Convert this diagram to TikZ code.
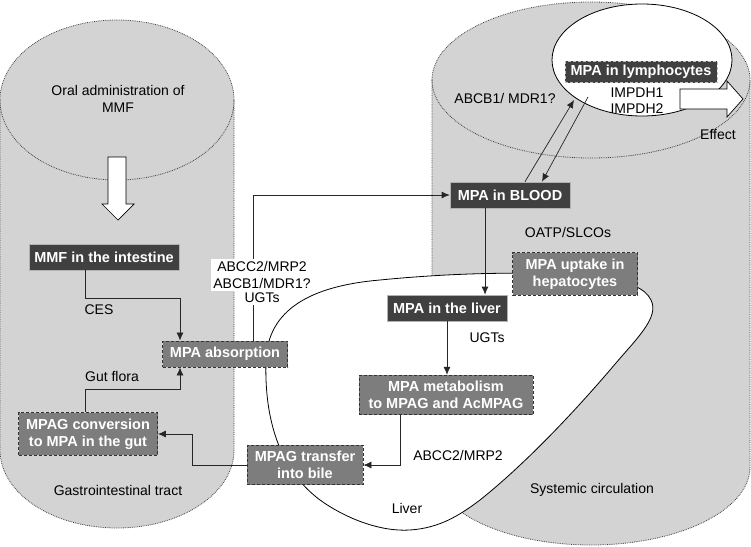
\documentclass[tikz,border=0pt]{standalone}
\usepackage{fontspec}
\setmainfont{Liberation Sans}
\usetikzlibrary{shapes,arrows.meta,positioning}

\definecolor{cylgray}{RGB}{211,211,211}
\definecolor{boxdark}{RGB}{64,64,64}
\definecolor{boxmid}{RGB}{125,125,125}

\tikzset{
  organ/.style={fill=cylgray, draw=black!75, densely dotted, line width=0.8pt},
  rim/.style={draw=black!75, densely dotted, line width=0.8pt},
  liverline/.style={fill=white, draw=black, line width=0.8pt},
  cell/.style={fill=white, draw=black, line width=0.8pt},
  hollow/.style={fill=white, draw=black, line width=0.7pt, line join=miter},
  darkbox/.style={fill=boxdark, draw=black!30, line width=0.7pt, text=white,
    font=\bfseries\fontsize{14.5}{17}\selectfont, align=center,
    inner xsep=3pt, inner ysep=6pt, minimum height=26pt},
  dashbox/.style={darkbox, fill=boxmid, draw=black!80, line width=0.8pt, dash pattern=on 3pt off 2pt},
  lbl/.style={font=\fontsize{14}{17}\selectfont, align=center, inner sep=1pt},
  conn/.style={draw=black!85, line width=0.7pt},
  arr/.style={conn, -{Latex[length=8pt,width=7pt]}}
}

\begin{document}
\begin{tikzpicture}[x=1pt,y=-1pt]
	\useasboundingbox (0,0) rectangle (751,546);
	
	% gut and blood
	\draw[organ] (0,100) arc (180:360:117 and 80) -- (234,450) arc (0:180:117 and 78) -- cycle;
	\draw[rim] (0,100) arc (180:0:117 and 80);
	\draw[organ] (432,80) arc (180:360:159 and 78) -- (750,467) arc (0:180:159 and 78) -- cycle;
	\draw[rim] (432,80) arc (180:0:159 and 78);
	
	% liver
	\draw[liverline] (380,280) .. controls (310,286) and (268,310) .. (266,360)
		.. controls (264,420) and (280,470) .. (320,500)
		.. controls (345,518) and (380,532) .. (410,530)
		.. controls (440,528) and (460,515) .. (480,500)
		.. controls (530,460) and (580,405) .. (610,370)
		.. controls (635,340) and (660,318) .. (651,300)
		.. controls (645,288) and (630,282) .. (600,278)
		.. controls (540,270) and (450,273) .. (380,280) -- cycle;
	
	% lymphocyte
	\draw[cell] (642,60) ellipse (90 and 56);
	
	\draw[hollow] (108,157) -- (126,157) -- (126,204) -- (134,204) -- (118,220) -- (102,204) -- (108,204) -- cycle;
	\draw[hollow] (680,89) -- (727,89) -- (727,81) -- (743,99) -- (727,117) -- (727,109) -- (680,109) -- cycle;
	
	\node[darkbox, minimum width=150pt] (mmf) at (104,257) {MMF in the intestine};
	\node[dashbox, minimum width=125pt] (absorb) at (225,354) {MPA absorption};
	\node[dashbox, minimum width=139pt] (conv) at (88,434) {MPAG conversion\\to MPA in the gut};
	\node[dashbox, minimum width=116pt] (transfer) at (305,465) {MPAG transfer\\into bile};
	\node[dashbox, minimum width=174pt] (metab) at (446,395) {MPA metabolism\\to MPAG and AcMPAG};
	\node[darkbox, minimum width=120pt] (livbox) at (447,308) {MPA in the liver};
	\node[dashbox, minimum width=125pt] (uptake) at (575,274) {MPA uptake in\\hepatocytes};
	\node[darkbox, minimum width=120pt] (blood) at (510,195) {MPA in BLOOD};
	\node[darkbox, draw=black!25, dash pattern=on 3pt off 2pt, minimum width=152pt,
		minimum height=21pt, inner ysep=4pt] (lymph) at (641,72) {MPA in lymphocytes};
	
	\node[lbl] (oral) at (118,99) {Oral administration of\\MMF};
	\node[lbl] (ces) at (99,310) {CES};
	\node[lbl] (flora) at (112,376) {Gut flora};
	\node[lbl] (gi) at (118,490) {Gastrointestinal tract};
	\node[lbl] (mdr) at (505,98) {ABCB1/ MDR1?};
	\node[lbl, font=\fontsize{14}{16}\selectfont] (impdh) at (637,101) {IMPDH1\\IMPDH2};
	\node[lbl] (effect) at (718,135) {Effect};
	\node[lbl] (oatp) at (568,232) {OATP/SLCOs};
	\node[lbl] (ugtliv) at (487,338) {UGTs};
	\node[lbl] (mrp) at (458,455) {ABCC2/MRP2};
	\node[lbl] (liver) at (407,508) {Liver};
	\node[lbl] (sys) at (592,490) {Systemic circulation};
	
	\draw[arr] ([xshift=-19pt]mmf.south) -- ++(0,28) -| ([xshift=-45pt]absorb.north);
	\draw[arr] ([xshift=-3pt]conv.north) -- ++(0,-23) -| ([xshift=-45pt]absorb.south);
	\draw[arr] (transfer.west) -- ++(-54,0) |- (conv.east);
	\draw[arr] ([xshift=-46pt]metab.south) |- (transfer.east);
	\draw[arr] (livbox.south) -- (livbox.south |- metab.north);
	\draw[arr] ([xshift=-25pt]blood.south) -- ([xshift=-25pt]blood.south |- livbox.north);
	\draw[arr] ([xshift=28pt]absorb.north) |- (blood.west);
	
	\coordinate (lymin) at (574,100);
	\coordinate (lymout) at (588,97);
	\draw[arr] ([xshift=15pt]blood.north) -- (lymin);
	\draw[arr] (lymout) -- ([xshift=32pt]blood.north);
	
	\node[lbl, fill=white, inner sep=2pt] (efflux) at (262,275) {ABCC2/MRP2\\ABCB1/MDR1?};
	\node[lbl, fill=white, inner sep=2pt, below=0pt of efflux] (ugtgut) {UGTs};
\end{tikzpicture}
\end{document}
